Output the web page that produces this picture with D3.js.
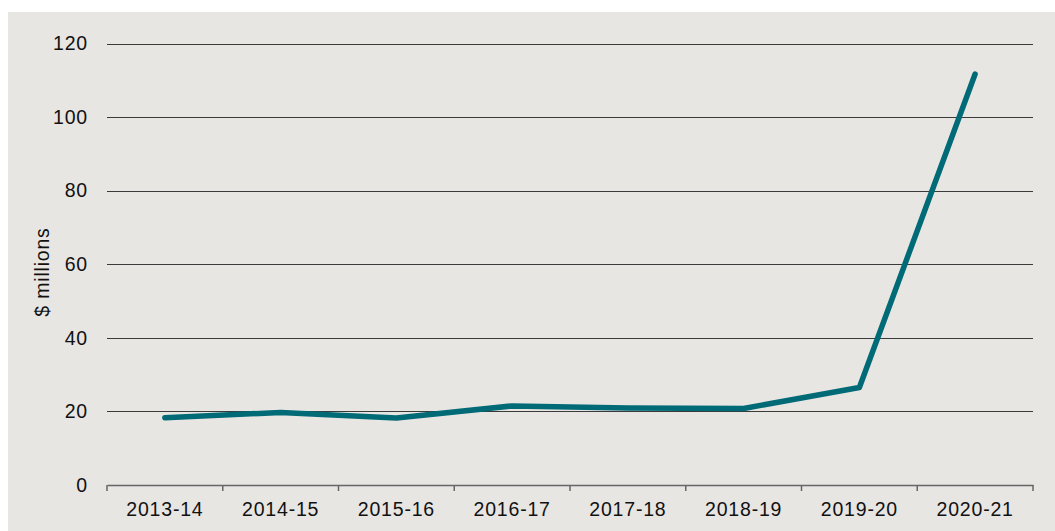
<!DOCTYPE html>
<html><head><meta charset="utf-8">
<script src="https://cdn.jsdelivr.net/npm/d3@7"></script>
<style>body{margin:0;background:#fff}svg{display:block}</style>
</head><body>
<svg id="c" width="1055" height="531"></svg>
<script>
const categories = ["2013-14","2014-15","2015-16","2016-17","2017-18","2018-19","2019-20","2020-21"];
const values = [18.3, 19.7, 18.2, 21.5, 20.9, 20.8, 26.5, 111.7];
const yTicks = [0, 20, 40, 60, 80, 100, 120];
const yLabel = "$ millions";

const svg = d3.select("#c");
const W = 1055, H = 531;
const m = {left: 107, right: 1033, top: 43.5, bottom: 485};
svg.append("rect").attr("x", 8).attr("y", 12).attr("width", W - 8).attr("height", H - 12).attr("fill", "#e8e6e3");

const x = d3.scaleBand().domain(categories).range([m.left, m.right]);
const y = d3.scaleLinear().domain([0, 120]).range([m.bottom, m.top]);
const font = "'Liberation Sans', Arial, sans-serif";
const fs = 19.5, ls = 0.8;

// gridlines
svg.append("g").selectAll("line").data(yTicks.filter(d => d > 0)).join("line")
  .attr("x1", m.left).attr("x2", m.right)
  .attr("y1", d => Math.round(y(d)) + 0.5).attr("y2", d => Math.round(y(d)) + 0.5)
  .attr("stroke", "#3a3a3a").attr("stroke-width", 1);

// y tick labels
svg.append("g").selectAll("text").data(yTicks).join("text")
  .attr("x", 88).attr("y", d => y(d)).attr("dy", "0.35em")
  .attr("text-anchor", "end").attr("font-family", font).attr("font-size", fs)
  .attr("letter-spacing", ls).attr("fill", "#111")
  .text(d => d);

// x axis
const xAxis = d3.axisBottom(x).tickSize(0).tickPadding(17);
const gx = svg.append("g").attr("transform", `translate(0,${m.bottom})`).call(xAxis);
gx.select(".domain").attr("stroke", "#666").attr("stroke-width", 1.5);
gx.selectAll("text").attr("font-family", font).attr("font-size", fs)
  .attr("letter-spacing", ls).attr("fill", "#111");
const boundaries = categories.map(c => x(c)).concat([m.right]);
gx.selectAll("line.bt").data(boundaries).join("line").attr("class", "bt")
  .attr("x1", d => d).attr("x2", d => d).attr("y1", 0).attr("y2", 6)
  .attr("stroke", "#666").attr("stroke-width", 1.5);

// y label
svg.append("text").attr("transform", `translate(42,272) rotate(-90)`)
  .attr("text-anchor", "middle").attr("dy", "0.35em").attr("font-family", font).attr("font-size", fs)
  .attr("letter-spacing", ls).attr("fill", "#111")
  .text(yLabel);

// line
const line = d3.line().x((d, i) => x(categories[i]) + x.bandwidth() / 2).y(d => y(d));
svg.append("path").datum(values).attr("d", line)
  .attr("fill", "none").attr("stroke", "#016a77").attr("stroke-width", 5.5)
  .attr("stroke-linecap", "round").attr("stroke-linejoin", "round");
</script>
</body></html>
